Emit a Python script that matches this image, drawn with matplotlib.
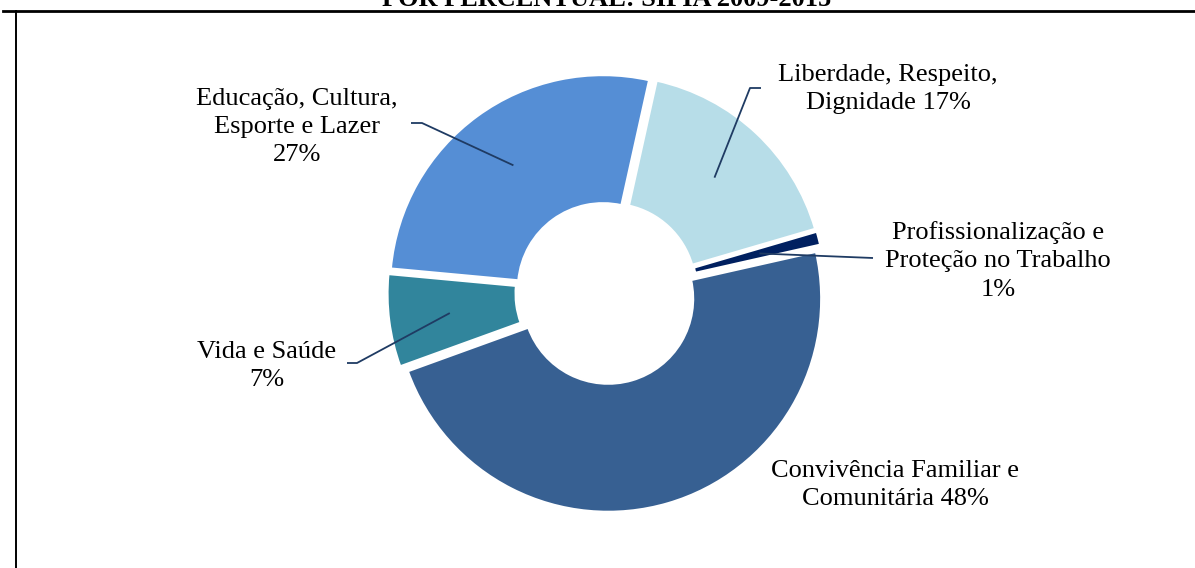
import numpy as np
import matplotlib
matplotlib.use("Agg")
import matplotlib.pyplot as plt
from matplotlib.lines import Line2D

# ---- data ----
categories = ["Liberdade, Respeito,\nDignidade 17%",
              "Profissionalização e\nProteção no Trabalho\n1%",
              "Convivência Familiar e\nComunitária 48%",
              "Vida e Saúde\n7%",
              "Educação, Cultura,\nEsporte e Lazer\n27%"]
values = [17, 1, 48, 7, 27]
colors = ["#B7DDE8", "#002060", "#376092", "#31859C", "#558ED5"]
title = "POR PERCENTUAL: SIPIA 2009-2015"

W, H = 1195, 568
fig = plt.figure(figsize=(W / 100, H / 100), dpi=100)
ax = fig.add_axes([0, 0, 1, 1])

def Y(y):
    return H - y

R = 213
wedges, _ = ax.pie(values, colors=colors, startangle=77.5, counterclock=False,
                   radius=R, center=(606.5, Y(293)), explode=[6] * len(values),
                   wedgeprops=dict(width=128, edgecolor="white", linewidth=1.5,
                                   joinstyle="round"))
ax.set_xlim(0, W)
ax.set_ylim(0, H)
ax.set_aspect("auto")
ax.axis("off")

font = dict(family=["Liberation Serif", "DejaVu Serif"], size=19, color="black")
line_color = "#1F3B63"

# label layout: (text center x, text center y, elbow points) in image pixels
layout = [
    (888, 89, [(750, 88), (761, 88)]),
    (998, 261, [(873, 258)]),
    (895, 485, None),
    (267, 366, [(357, 363), (347, 363)]),
    (297, 127, [(422, 123), (411, 123)]),
]

for w, lab, (tx, ty, pts) in zip(wedges, categories, layout):
    ax.text(tx, Y(ty), lab, ha="center", va="center", linespacing=1.36, **font)
    if pts:
        mid = np.deg2rad((w.theta1 + w.theta2) / 2)
        cx, cy = w.center
        rr = 152
        xs = [cx + rr * np.cos(mid)] + [p[0] for p in pts]
        ys = [cy + rr * np.sin(mid)] + [Y(p[1]) for p in pts]
        ax.plot(xs, ys, color=line_color, lw=1.3, solid_capstyle="butt")

# clipped title and frame lines
fig.text(607 / W, Y(6) / H, title, ha="center", va="baseline",
         fontweight="bold", **font)
fig.add_artist(Line2D([3 / W, 1], [Y(10.5) / H] * 2, color="black", lw=2.0,
                      transform=fig.transFigure))
fig.add_artist(Line2D([15.7 / W] * 2, [Y(11) / H, 0], color="black", lw=1.4,
                      transform=fig.transFigure))

fig.savefig("out.png", dpi=100)
